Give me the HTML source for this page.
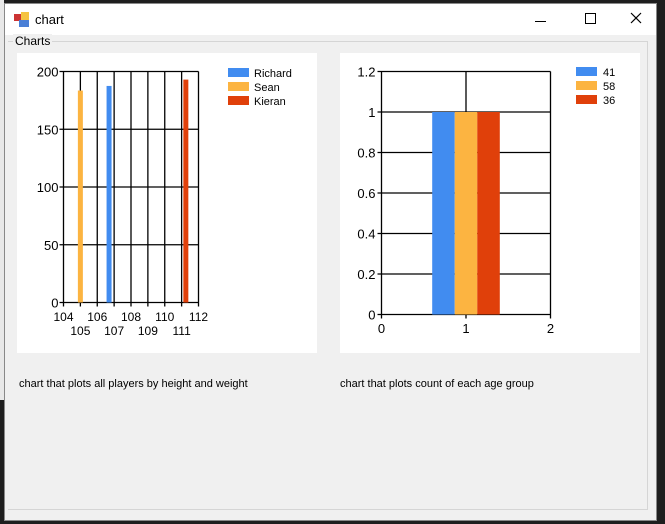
<!DOCTYPE html>
<html><head><meta charset="utf-8"><style>
body{margin:0;width:665px;height:524px;overflow:hidden;background:#1e1e1e;font-family:"Liberation Sans",sans-serif;position:relative}
.win{position:absolute;left:4px;top:3px;width:653px;height:518px;background:#f0f0f0;border:1px solid #888;box-sizing:border-box}
.title{position:absolute;left:0;top:0;width:100%;height:31px;background:#fff}
.lbl{position:absolute;font-size:11px;color:#000}
</style></head><body>
<div style="position:absolute;left:0;top:0;width:4px;height:400px;background:#e8e8e8"></div>
<div class="win">
 <div class="title">
  <svg style="position:absolute;left:9px;top:8px" width="16" height="16"><rect x="0" y="2" width="7" height="7" fill="#c33"/><rect x="7" y="0" width="8" height="8" fill="#f5c342"/><rect x="5" y="8" width="10" height="7" fill="#4a7fd6"/></svg>
  <span style="position:absolute;left:30px;top:8px;font-size:13px">chart</span>
  <span style="position:absolute;left:530px;top:17px;width:11px;height:1px;background:#000"></span>
  <span style="position:absolute;left:580px;top:9px;width:9px;height:9px;border:1px solid #000"></span>
  <svg style="position:absolute;left:625px;top:8px" width="12" height="12"><path d="M1 1L11 11M11 1L1 11" stroke="#000" stroke-width="1.2"/></svg>
 </div>
 <div style="position:absolute;left:3px;top:37px;width:639px;height:467px;border-top:1px solid #d5d5d5;border-right:1px solid #d5d5d5;border-bottom:1px solid #d5d5d5"></div>
 <span class="lbl" style="left:8px;top:30px;background:#f0f0f0;padding:0 2px;font-size:12px">Charts</span>
</div>
<svg style="position:absolute;left:0;top:0" width="665" height="524" font-family="Liberation Sans, sans-serif">
 <rect x="17" y="53" width="300" height="300" fill="#fff"/>
 <rect x="340" y="53" width="300" height="300" fill="#fff"/>
 <g id="c1"></g><g id="c2"></g>
</svg>
<span class="lbl" style="left:19px;top:378px">chart that plots all players by height and weight</span>
<span class="lbl" style="left:340px;top:378px">chart that plots count of each age group</span>
<script>
const players=["Richard","Sean","Kieran"];
const playerHeights=[106.7,105,111.25];
const playerWeights=[187.5,183.5,193];
const playerColors=["#418CF0","#FCB441","#E0400A"];
const xTicks1=[104,105,106,107,108,109,110,111,112];
const yTicks1=[0,50,100,150,200];
const ageGroups=["41","58","36"];
const ageCounts=[1,1,1];
const xTicks2=[0,1,2];
const yTicks2=[0,0.2,0.4,0.6,0.8,1,1.2];
const NS="http://www.w3.org/2000/svg";
function mk(p,t,a,txt){const e=document.createElementNS(NS,t);for(const k in a)e.setAttribute(k,a[k]);if(txt!==undefined)e.textContent=txt;p.appendChild(e);return e;}
// chart 1
(function(){
 const g=document.getElementById('c1');
 const L=63.5,R=198.5,T=71.5,B=302.5;
 const x=v=>L+(v-104)/8*(R-L), y=v=>B-v/200*(B-T);
 xTicks1.forEach((t,i)=>{const e=mk(g,'line',{x1:x(t),x2:x(t),y1:T,y2:B+4,stroke:'#000','stroke-width':1.3});
  const tx=mk(g,'text',{x:x(t),y:i%2?335:321,'font-size':12,'text-anchor':'middle'},t);});
 yTicks1.forEach(t=>{const e=mk(g,'line',{x1:L-4,x2:R,y1:y(t),y2:y(t),stroke:'#000','stroke-width':1.3});
  const tx=mk(g,'text',{x:L-5,y:y(t)+5,'font-size':13,'text-anchor':'end'},t);});
 players.forEach((p,i)=>{const r=mk(g,'rect',{x:x(playerHeights[i])-2.5,y:y(playerWeights[i]),width:5,height:B-y(playerWeights[i]),fill:playerColors[i]});
  const s=mk(g,'rect',{x:228,y:68+i*14,width:21,height:9,fill:playerColors[i]});
  const t=mk(g,'text',{x:254,y:77+i*14,'font-size':11},p);});
})();
// chart 2
(function(){
 const g=document.getElementById('c2');
 const L=381.5,R=550.5,T=71.5,B=314.5;
 const x=v=>L+v/2*(R-L), y=v=>B-v/1.2*(B-T);
 xTicks2.forEach(t=>{const e=mk(g,'line',{x1:x(t),x2:x(t),y1:T,y2:B+4,stroke:'#000','stroke-width':1.3});
  const tx=mk(g,'text',{x:x(t),y:333,'font-size':13,'text-anchor':'middle'},t);});
 yTicks2.forEach(t=>{const e=mk(g,'line',{x1:L-4,x2:R,y1:y(t),y2:y(t),stroke:'#000','stroke-width':1.3});
  const tx=mk(g,'text',{x:L-6,y:y(t)+5,'font-size':13,'text-anchor':'end'},t);});
 const n=ageGroups.length,w=0.8/n;
 ageGroups.forEach((a,i)=>{const x0=x(1-0.4+i*w),x1=x(1-0.4+(i+1)*w);
  const r=mk(g,'rect',{x:x0,y:y(ageCounts[i]),width:x1-x0,height:B-y(ageCounts[i]),fill:playerColors[i]});
  const s=mk(g,'rect',{x:576,y:67+i*14,width:21,height:9,fill:playerColors[i]});
  const t=mk(g,'text',{x:603,y:76+i*14,'font-size':11},a);});
})();
</script>
</body></html>
